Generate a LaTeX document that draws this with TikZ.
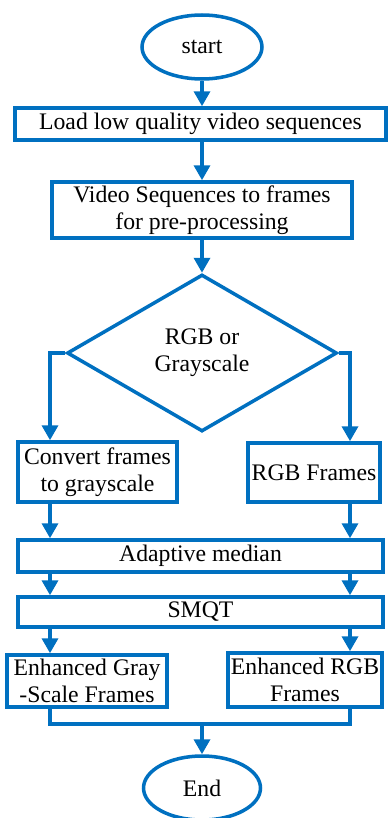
\documentclass[tikz,border=0pt]{standalone}
\usepackage{fontspec}
\setmainfont{Liberation Serif}
\usepackage{tikz}
\usetikzlibrary{shapes.geometric,arrows.meta}
\definecolor{flowblue}{RGB}{0,112,192}

\tikzset{
  box/.style={draw=flowblue,line width=2pt,rectangle,inner sep=1pt,align=center,
    font=\rmfamily\fontsize{13.5}{15.5}\selectfont},
  term/.style={box,ellipse},
  decide/.style={box,diamond},
  arr/.style={draw=flowblue,line width=2pt,-{Triangle[width=0.32cm,length=0.3cm]}},
  lin/.style={draw=flowblue,line width=2pt}
}

\begin{document}
\begin{tikzpicture}[x=0.02cm,y=-0.02cm]
    \useasboundingbox (0,0) rectangle (387,818);
    % nodes
    \node[term,minimum width=2.4cm,minimum height=1.28cm] (start) at (202,47) {start};
    \node[box,minimum width=7.42cm,minimum height=0.64cm] (load) at (200.5,124) {Load low quality video sequences};
    \node[box,minimum width=6.0cm,minimum height=1.12cm] (frames) at (202,210) {Video Sequences to frames\\for pre-processing};
    \node[decide,minimum width=5.4cm,minimum height=3.14cm] (dec) at (202,353) {RGB or\\Grayscale};
    \node[box,minimum width=3.18cm,minimum height=1.2cm] (conv) at (97.5,472) {Convert frames\\to grayscale};
    \node[box,minimum width=2.64cm,minimum height=1.18cm] (rgbf) at (314,472.5) {RGB Frames};
    \node[box,minimum width=7.3cm,minimum height=0.64cm] (adap) at (200.5,556) {Adaptive median};
    \node[box,minimum width=7.3cm,minimum height=0.6cm] (smqt) at (200.5,612) {SMQT};
    \node[box,minimum width=3.2cm,minimum height=1.04cm] (egray) at (87,681) {Enhanced Gray\\-Scale Frames};
    \node[box,minimum width=3.08cm,minimum height=1.08cm] (ergb) at (305,680) {Enhanced RGB\\Frames};
    \node[term,minimum width=2.34cm,minimum height=1.28cm] (end) at (202,788) {End};
    \coordinate (lx) at (50,0);
    \coordinate (rx) at (350,0);
    \coordinate (merge) at (202,724);
    % connectors
    \draw[arr] (start) -- (start |- load.north);
    \draw[arr] (start |- load.south) -- (frames);
    \draw[arr] (frames) -- (dec);
    \draw[arr] (dec.west) -| (conv.north -| lx);
    \draw[arr] (dec.east) -| (rgbf.north -| rx);
    \draw[arr] (conv.south -| lx) -- (adap.north -| lx);
    \draw[arr] (rgbf.south -| rx) -- (adap.north -| rx);
    \draw[arr] (adap.south -| lx) -- (smqt.north -| lx);
    \draw[arr] (adap.south -| rx) -- (smqt.north -| rx);
    \draw[arr] (smqt.south -| lx) -- (egray.north -| lx);
    \draw[arr] (smqt.south -| rx) -- (ergb.north -| rx);
    \draw[lin] (egray.south -| lx) |- (merge) -| (ergb.south -| rx);
    \draw[arr] (merge) -- (end);
\end{tikzpicture}
\end{document}
